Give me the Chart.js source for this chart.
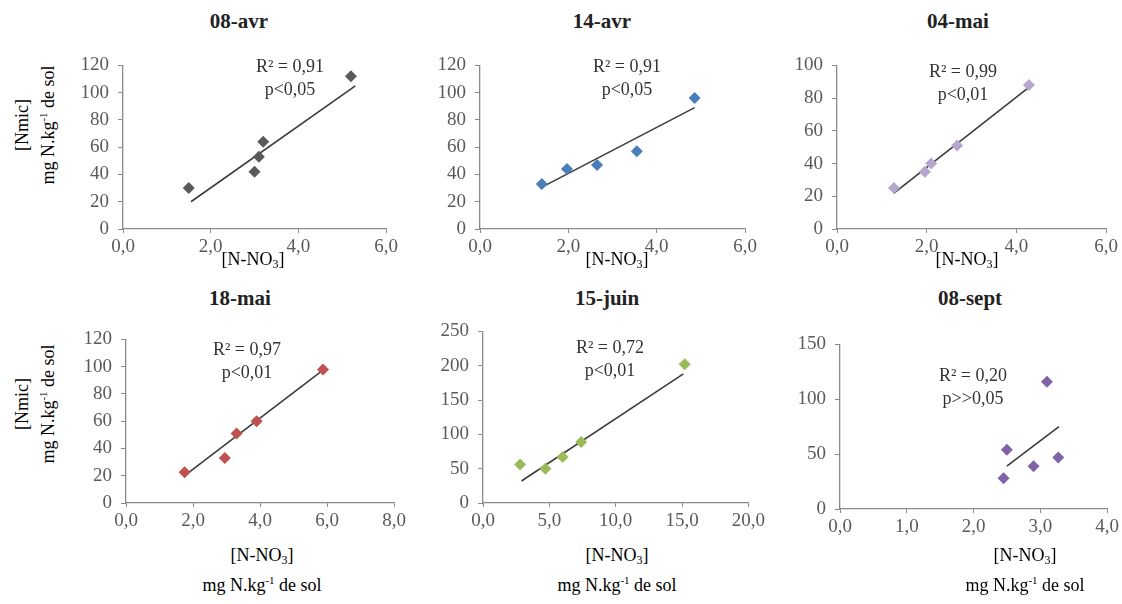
<!DOCTYPE html>
<html><head><meta charset="utf-8">
<script src="https://cdn.jsdelivr.net/npm/chart.js@4"></script>
<style>
body{margin:0;background:#fff;width:1122px;height:604px;position:relative;overflow:hidden;font-family:"Liberation Serif","Times New Roman",serif;}
canvas{position:absolute}
.t{position:absolute;transform:translate(-50%,-50%);white-space:nowrap;}
.title{font-weight:bold;font-size:21px;color:#222}
.ann{font-size:18px;color:#333;text-align:center;line-height:23px}
.ax{font-size:18px;color:#000;text-align:center;line-height:30px}
.yt{position:absolute;transform:translate(-50%,-50%) rotate(-90deg);white-space:nowrap;font-size:18px;text-align:center;line-height:26px;color:#000}
sup{font-size:11px;vertical-align:7px;line-height:0}
sub{font-size:12px;vertical-align:-3px;line-height:0}
</style>
</head><body>
<script>
// ---- data ----
const titles = ['08-avr', '14-avr', '04-mai', '18-mai', '15-juin', '08-sept'];
const r2Labels = ['R\u00b2 = 0,91', 'R\u00b2 = 0,91', 'R\u00b2 = 0,99', 'R\u00b2 = 0,97', 'R\u00b2 = 0,72', 'R\u00b2 = 0,20'];
const pLabels = ['p<0,05', 'p<0,05', 'p<0,01', 'p<0,01', 'p<0,01', 'p>>0,05'];

const nitrate_0804 = [1.5, 3.0, 3.1, 3.2, 5.2];
const nmic_0804    = [30, 42, 53, 64, 112];
const trendX_0804  = [1.55, 5.3];
const trendY_0804  = [20, 105];

const nitrate_1404 = [1.4, 1.97, 2.65, 3.55, 4.86];
const nmic_1404    = [33, 44, 47, 57, 96];
const trendX_1404  = [1.36, 4.86];
const trendY_1404  = [30, 89];

const nitrate_0405 = [1.27, 1.96, 2.1, 2.68, 4.28];
const nmic_0405    = [25, 35, 40, 51, 88];
const trendX_0405  = [1.27, 4.3];
const trendY_0405  = [22, 87];

const nitrate_1805 = [1.75, 2.95, 3.3, 3.9, 5.88];
const nmic_1805    = [22.5, 33, 51, 60, 98];
const trendX_1805  = [1.75, 5.8];
const trendY_1805  = [20, 96];

const nitrate_1506 = [2.8, 4.7, 6.0, 7.4, 15.2];
const nmic_1506    = [56, 50, 67, 89, 202];
const trendX_1506  = [2.9, 15.1];
const trendY_1506  = [32, 188];

const nitrate_0809 = [2.45, 2.5, 2.9, 3.1, 3.27];
const nmic_0809    = [28, 54, 39, 116, 47];
const trendX_0809  = [2.5, 3.28];
const trendY_0809  = [39, 75];

const xMax  = [6, 6, 6, 8, 20, 4];
const xStep = [2, 2, 2, 2, 5, 1];
const yMax  = [120, 120, 100, 120, 250, 150];
const yStep = [20, 20, 20, 20, 50, 50];

const seriesX = [nitrate_0804, nitrate_1404, nitrate_0405, nitrate_1805, nitrate_1506, nitrate_0809];
const seriesY = [nmic_0804, nmic_1404, nmic_0405, nmic_1805, nmic_1506, nmic_0809];
const trendsX = [trendX_0804, trendX_1404, trendX_0405, trendX_1805, trendX_1506, trendX_0809];
const trendsY = [trendY_0804, trendY_1404, trendY_0405, trendY_1805, trendY_1506, trendY_0809];

// ---- style / layout ----
Chart.defaults.font.family = "'Liberation Serif', 'Times New Roman', serif";
const colors = ['#5a5a5a', '#4a7ebb', '#b6a6cf', '#c0504d', '#9bbb59', '#7f62a8'];
// chart areas: [left, top, right, bottom]
const areas = [
  [123, 59, 386, 229],
  [480, 59, 745, 229],
  [837, 59, 1106, 229],
  [126, 333, 394, 503],
  [483, 325, 750, 503],
  [840, 338, 1107, 509]
];
const titlePos = [[239, 21], [602, 21], [958, 21], [240, 298], [607, 298], [970, 298]];
const annPos = [[290, 78], [627, 78], [963, 83], [247, 361], [610, 359], [973, 387]];
const Y_W = 50, X_H = 32, PAD_T = 14, PAD_R = 18;

const fmtX = v => Number(v).toFixed(1).replace('.', ',');

function addText(cls, html, x, y) {
  const d = document.createElement('div');
  d.className = cls;
  d.innerHTML = html;
  d.style.left = x + 'px';
  d.style.top = y + 'px';
  document.body.appendChild(d);
}

for (let i = 0; i < 6; i++) {
  const [l, t, r, b] = areas[i];
  const cl = l - Y_W, ct = t - PAD_T;
  const cw = r + PAD_R - cl, ch = b + X_H - ct;
  const cv = document.createElement('canvas');
  cv.width = cw; cv.height = ch;
  cv.style.left = cl + 'px'; cv.style.top = ct + 'px';
  cv.style.width = cw + 'px'; cv.style.height = ch + 'px';
  document.body.appendChild(cv);

  const pts = seriesX[i].map((x, k) => ({x: x, y: seriesY[i][k]}));
  const trend = trendsX[i].map((x, k) => ({x: x, y: trendsY[i][k]}));
  const tickFont = {family: "'Liberation Serif', 'Times New Roman', serif", size: 19};

  new Chart(cv, {
    type: 'scatter',
    data: {
      datasets: [
        {data: trend, type: 'line', showLine: true, borderColor: '#3c3c3c', borderWidth: 1.6, pointRadius: 0, fill: false, order: 2},
        {data: pts, pointStyle: 'rectRot', pointRadius: 6, pointHoverRadius: 6, backgroundColor: colors[i], borderColor: colors[i], borderWidth: 0, order: 1}
      ]
    },
    options: {
      responsive: false, animation: false, devicePixelRatio: 1,
      layout: {padding: {top: PAD_T, right: PAD_R, left: 0, bottom: 0}},
      plugins: {legend: {display: false}, tooltip: {enabled: false}, title: {display: false}},
      scales: {
        x: {
          type: 'linear', min: 0, max: xMax[i],
          afterFit: s => { s.height = X_H; },
          border: {display: true, color: '#8a8a8a', width: 1.3},
          grid: {display: true, drawOnChartArea: false, drawTicks: true, tickLength: 4, color: '#8a8a8a'},
          ticks: {stepSize: xStep[i], padding: 3, color: '#5a5a5a', font: tickFont, callback: v => fmtX(v), maxRotation: 0}
        },
        y: {
          type: 'linear', min: 0, max: yMax[i],
          afterFit: s => { s.width = Y_W; },
          border: {display: true, color: '#8a8a8a', width: 1.3},
          grid: {display: true, drawOnChartArea: false, drawTicks: true, tickLength: 5, color: '#8a8a8a'},
          ticks: {stepSize: yStep[i], padding: 9, color: '#5a5a5a', font: tickFont}
        }
      }
    }
  });

  addText('t title', titles[i], titlePos[i][0], titlePos[i][1]);
  addText('t ann', r2Labels[i] + '<br>' + pLabels[i].replace(/</g, '&lt;').replace(/>/g, '&gt;'), annPos[i][0], annPos[i][1]);
}

// axis titles
const nno3 = '[N-NO<sub>3</sub>]';
const unit = 'mg N.kg<sup>-1</sup> de sol';
addText('t ax', nno3, 253, 259);
addText('t ax', nno3, 617, 259);
addText('t ax', nno3, 967, 259);
addText('t ax', nno3 + '<br>' + unit, 262, 570);
addText('t ax', nno3 + '<br>' + unit, 617, 570);
addText('t ax', nno3 + '<br>' + unit, 1025, 570);
addText('yt', '[Nmic]<br>' + unit, 35, 125);
addText('yt', '[Nmic]<br>' + unit, 35, 404);
</script>
</body></html>
